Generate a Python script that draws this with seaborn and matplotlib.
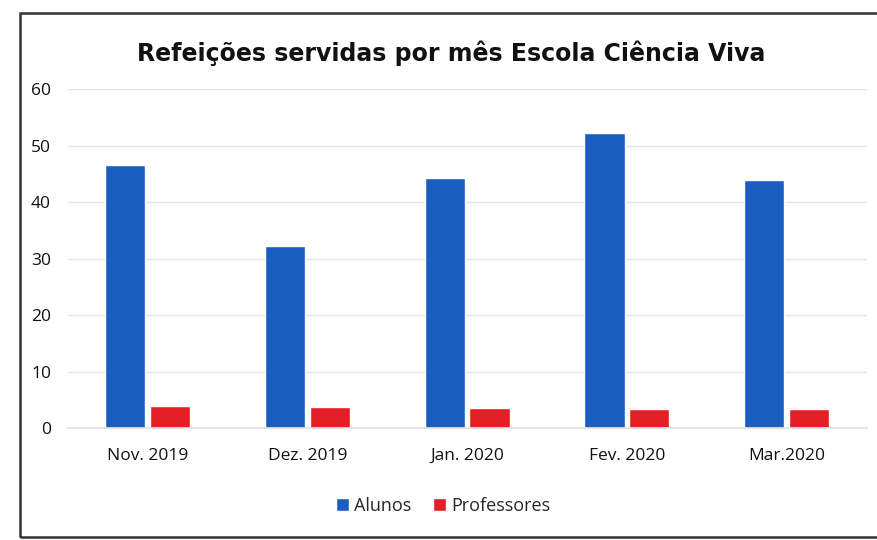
import matplotlib
matplotlib.use("Agg")

import matplotlib.pyplot as plt
import pandas as pd
import seaborn as sns
from matplotlib.patches import Rectangle

# data
meses = ["Nov. 2019", "Dez. 2019", "Jan. 2020", "Fev. 2020", "Mar.2020"]
alunos = [46.5, 32.3, 44.2, 52.3, 44.0]
professores = [4.0, 3.8, 3.6, 3.4, 3.4]
series = ["Alunos", "Professores"]
y_ticks = [0, 10, 20, 30, 40, 50, 60]

_COLORS = {"Alunos": "#1a5fc0", "Professores": "#e41e26"}

df = pd.DataFrame({
    "mes": meses * 2,
    "serie": [series[0]] * len(meses) + [series[1]] * len(meses),
    "valor": alunos + professores,
})

sns.set_theme(style="white")
plt.rcParams["font.family"] = ["Open Sans", "DejaVu Sans"]

fig = plt.figure(figsize=(8.78, 5.4), dpi=100)
ax = fig.add_axes([0.077, 0.207, 0.91, 0.628])

sns.barplot(
    data=df, x="mes", y="valor", hue="serie", order=meses, hue_order=series,
    palette=_COLORS, width=0.56, gap=0.1, saturation=1, ax=ax,
)

ax.set_ylim(0, 60)
ax.set_yticks(y_ticks)
ax.set_xlim(-0.5, len(meses) - 0.5)
ax.yaxis.grid(True, color="#e6e6e6", linewidth=1)
ax.set_axisbelow(True)
ax.set_xlabel("")
ax.set_ylabel("")
for side in ["left", "right", "top"]:
    ax.spines[side].set_visible(False)
ax.spines["bottom"].set_color("#e0e0e0")
ax.tick_params(axis="both", length=0, labelsize=12.5, colors="#111111")
ax.tick_params(axis="x", pad=14)
ax.tick_params(axis="y", pad=12)

ax.set_title("Refeições servidas por mês Escola Ciência Viva",
             fontsize=17, fontweight="bold", family="DejaVu Sans",
             color="#111111", pad=20, x=0.48)

ax.legend(
    loc="upper center", bbox_to_anchor=(0.47, -0.155), ncol=2, frameon=False,
    fontsize=13, handlelength=0.7, handleheight=0.7, handletextpad=0.3,
    columnspacing=1.2,
)

# scanned frame around the chart
fig.patches.append(Rectangle((0.023, 0.006), 1.2, 0.97, transform=fig.transFigure,
                             fill=False, edgecolor="#333333", linewidth=1.8))

fig.savefig("out.png", dpi=100, facecolor="white")
plt.close(fig)
